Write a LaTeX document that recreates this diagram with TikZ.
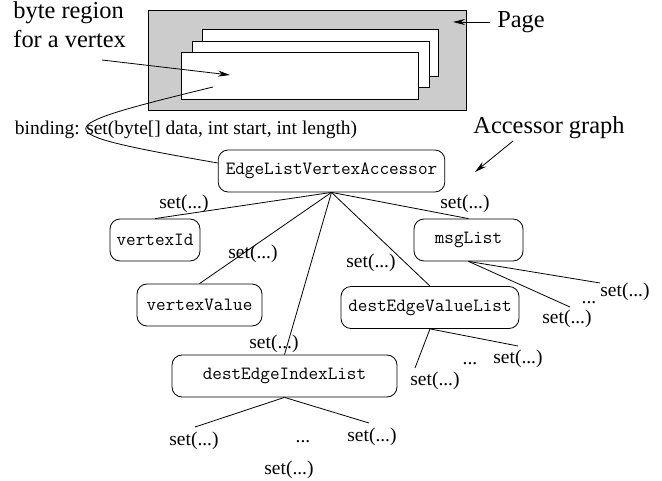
\documentclass[tikz,border=0pt]{standalone}
\usepackage{fontspec}
\setmainfont{Liberation Serif}
\usetikzlibrary{arrows.meta}

\begin{document}
\begin{tikzpicture}[x=0.75pt,y=-0.75pt,line width=0.6pt,
	accbox/.style={draw,rounded corners=7.5pt,minimum height=31.5pt,inner sep=0pt,
		font=\ttfamily\fontsize{14}{16}\selectfont},
	setlbl/.style={inner sep=0pt,font=\fontsize{14.6}{17}\selectfont},
	bigtext/.style={inner sep=0pt,font=\fontsize{18.3}{22}\selectfont},
	pointer/.style={-{Stealth[length=9pt,width=4.5pt]}}]

	\useasboundingbox (0,0) rectangle (662,481);

	\draw[fill=gray!40] (148,10) rectangle (466,110);
	\draw[fill=white] (202,29) rectangle (438,76); \draw[fill=white]
        (192,41) rectangle (429,87); \draw[fill=white] (181,52)
        rectangle (418,99);

	\node[bigtext,align=left,anchor=north west] (region) at (13,1)
        {byte region\\for a vertex};
	\node[bigtext] (page) at (521,22) {Page};
	\node[bigtext] (graph) at (549,128) {Accessor graph};
	\node[setlbl] (binding) at (186,130)
        {binding: set(byte[] data, int start, int length)};

	\coordinate (regfrom) at (102,60); \coordinate (regto) at
        (230,75); \coordinate (pagept) at (453,22); \coordinate
        (graphfrom) at (513,141); \coordinate (graphto) at (475,172);
        \coordinate (bindfrom) at (213,87);

	\draw[pointer] (regfrom) -- (regto); \draw[pointer]
        ([xshift=-5pt]page.west) -- (pagept); \draw[pointer]
        (graphfrom) -- (graphto);

	\node[accbox,minimum width=170pt] (acc) at (331.5,171)
        {EdgeListVertexAccessor};
	\node[accbox,minimum width=67.5pt] (vid) at (155,240) {vertexId};
	\node[accbox,minimum width=93.75pt] (vval) at (199.5,305)
        {vertexValue};
	\node[accbox,minimum width=168.75pt] (deil) at (284.5,376)
        {destEdgeIndexList};
	\node[accbox,minimum width=133.5pt] (devl) at (430,307.5)
        {destEdgeValueList};
	\node[accbox,minimum width=81.75pt] (msg) at (468.5,240) {msgList};

	\draw (bindfrom) .. controls (45,128) and (40,132) ..
        ([yshift=6pt]acc.west);

	\draw (acc.south) -- (vid.north); \draw (acc.south) --
        (vval.north); \draw (acc.south) -- (deil.north); \draw
        (acc.south) -- (devl.north); \draw (acc.south) -- (msg.north);

	\node[setlbl] (svid) at (184,204) {set(...)};
	\node[setlbl] (svval) at (253,254) {set(...)};
	\node[setlbl] (sdeil) at (274,344) {set(...)};
	\node[setlbl] (sdevl) at (371,263) {set(...)};
	\node[setlbl] (smsg) at (465,204) {set(...)};

	\coordinate (m1) at (600,283); \coordinate (m2) at (570,307);
        \coordinate (v1) at (415,368); \coordinate (v2) at (518,346);
        \coordinate (i1) at (195,427); \coordinate (i2) at (369,423);

	\draw (msg.south) -- (m1); \draw (msg.south) -- (m2); \draw
        (devl.south) -- (v1); \draw (devl.south) -- (v2); \draw
        (deil.south) -- (i1); \draw (deil.south) -- (i2);

	\node[setlbl] (sm1) at (625,292) {set(...)};
	\node[setlbl] (sm2) at (567,319) {set(...)};
	\node[setlbl] (dm) at (589,303) {...};
	\node[setlbl] (sv1) at (435,381) {set(...)};
	\node[setlbl] (sv2) at (518,359) {set(...)};
	\node[setlbl] (dv) at (470,364) {...};
	\node[setlbl] (si1) at (194,441) {set(...)};
	\node[setlbl] (si2) at (372,437) {set(...)};
	\node[setlbl] (si3) at (289,470) {set(...)};
	\node[setlbl] (di) at (303,442) {...};
      \end{tikzpicture}
\end{document}
